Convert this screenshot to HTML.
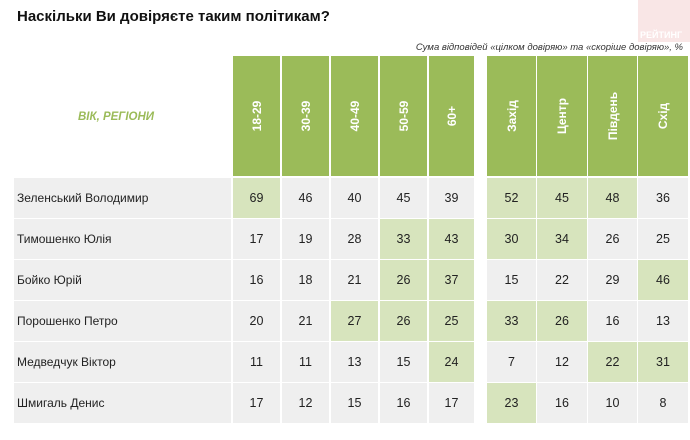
<!DOCTYPE html>
<html><head><meta charset="utf-8"><style>
body{margin:0;width:690px;height:440px;background:#fff;position:relative;overflow:hidden;font-family:"Liberation Sans",sans-serif;}
.a{position:absolute;}
.h{background:#9bbb59;color:#fff;font-weight:bold;font-size:12px;}
.h span{position:absolute;left:50%;top:50%;transform:translate(-50%,-50%) rotate(-90deg);white-space:nowrap;}
.c{background:#efefef;font-size:12.5px;color:#222;text-align:center;}
.g{background:#d7e4bd;}
.n{background:#efefef;font-size:12px;color:#222;padding-left:3px;box-sizing:border-box;}
</style></head><body>
<div class="a" style="left:17px;top:8px;font-size:15px;font-weight:bold;color:#111;">Наскільки Ви довіряєте таким політикам?</div>
<div class="a" style="left:638px;top:0;width:52px;height:42px;background:#f9e6e6;"></div>
<div class="a" style="left:640px;top:30px;font-size:9px;font-weight:bold;color:#fff;">РЕЙТИНГ</div>
<div class="a" style="right:7px;top:42px;font-size:9.5px;font-style:italic;color:#333;">Сума відповідей «цілком довіряю» та «скоріше довіряю», %</div>
<div class="a" style="left:78px;top:111px;font-size:11.5px;font-weight:bold;font-style:italic;color:#9bbb59;">ВІК, РЕГІОНИ</div>
<div id="t"></div>
<script>
var cols=[[233,47],[282,47],[331,47],[380,47],[429,45],[487,49],[537,50],[588,49],[638,50]];
var hd=["18-29","30-39","40-49","50-59","60+","Захід","Центр","Південь","Схід"];
var names=["Зеленський Володимир","Тимошенко Юлія","Бойко Юрій","Порошенко Петро","Медведчук Віктор","Шмигаль Денис"];
var d=[[69,46,40,45,39,52,45,48,36],[17,19,28,33,43,30,34,26,25],[16,18,21,26,37,15,22,29,46],[20,21,27,26,25,33,26,16,13],[11,11,13,15,24,7,12,22,31],[17,12,15,16,17,23,16,10,8]];
var g=[[0,5,6,7],[3,4,5,6],[3,4,8],[2,3,4,5,6],[4,7,8],[5]];
var h="";
cols.forEach(function(c,i){h+='<div class="a h" style="left:'+c[0]+'px;top:56px;width:'+c[1]+'px;height:120px"><span>'+hd[i]+'</span></div>';});
for(var r=0;r<6;r++){var y=178+r*41;
h+='<div class="a n" style="left:14px;top:'+y+'px;width:217px;height:40px;line-height:40px">'+names[r]+'</div>';
cols.forEach(function(c,i){h+='<div class="a c'+(g[r].indexOf(i)>=0?' g':'')+'" style="left:'+c[0]+'px;top:'+y+'px;width:'+c[1]+'px;height:40px;line-height:40px">'+d[r][i]+'</div>';});}
document.getElementById("t").innerHTML=h;
</script>
</body></html>
